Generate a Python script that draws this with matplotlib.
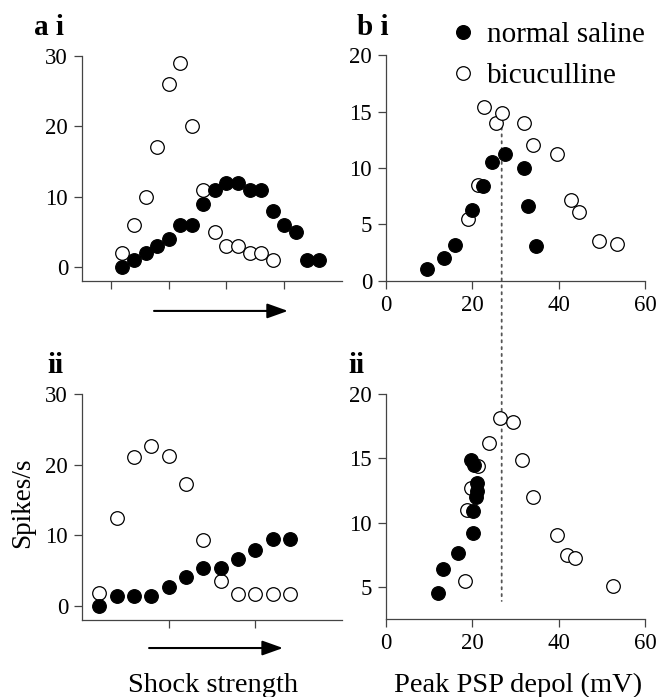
import matplotlib
matplotlib.use("Agg")
import matplotlib.pyplot as plt
from matplotlib.patches import ConnectionPatch
from matplotlib.lines import Line2D

plt.rcParams["font.family"] = ["Liberation Serif", "DejaVu Serif"]

# a i: spikes vs shock strength (stimulus steps)
ai_sal_step = list(range(1, 19))
ai_sal = [0, 1, 2, 3, 4, 6, 6, 9, 11, 12, 12, 11, 11, 8, 6, 5, 1, 1]
ai_bic_step = list(range(1, 15))
ai_bic = [2, 6, 10, 17, 26, 29, 20, 11, 5, 3, 3, 2, 2, 1]

# a ii
aii_step = list(range(1, 13))
aii_sal = [0, 1.4, 1.4, 1.4, 2.7, 4.1, 5.4, 5.4, 6.7, 7.9, 9.5, 9.5]
aii_bic = [1.8, 12.4, 21.1, 22.7, 21.2, 17.2, 9.3, 3.5, 1.75, 1.75, 1.75, 1.75]

# b i: spikes vs peak PSP depolarisation
bi_sal_x = [9.4, 13.4, 16.0, 20.0, 22.4, 24.5, 27.6, 32.0, 33.0, 34.7]
bi_sal_y = [1.1, 2.0, 3.2, 6.3, 8.4, 10.5, 11.2, 10.0, 6.6, 3.1]
bi_bic_x = [18.9, 21.4, 22.8, 25.4, 26.8, 32.0, 34.0, 39.5, 42.9, 44.6, 49.4, 53.4]
bi_bic_y = [5.5, 8.5, 15.4, 14.0, 14.9, 14.0, 12.0, 11.2, 7.2, 6.1, 3.5, 3.3]

# b ii
bii_sal_x = [12.0, 13.3, 16.6, 20.1, 20.1, 20.8, 21.0, 21.0, 20.3, 19.6]
bii_sal_y = [4.6, 6.4, 7.7, 9.2, 10.9, 12.0, 12.5, 13.1, 14.5, 14.9]
bii_bic_x = [18.3, 18.7, 19.8, 21.2, 23.9, 26.4, 29.5, 31.6, 34.0, 39.5, 42.0, 43.8, 52.5]
bii_bic_y = [5.5, 11.0, 12.7, 14.4, 16.2, 18.1, 17.8, 14.9, 12.0, 9.1, 7.5, 7.3, 5.1]

threshold_x = 26.8

W, H = 660, 697
fig = plt.figure(figsize=(W / 100, H / 100), dpi=100)
spine_col = "#444444"
tick_fs = 16.5
label_fs = 20.5


def px_axes(left, right, top, bottom):
    return fig.add_axes([left / W, 1 - bottom / H, (right - left) / W, (bottom - top) / H])


def style(ax, ytop):
    for side in ("top", "right"):
        ax.spines[side].set_visible(False)
    for side in ("left", "bottom"):
        ax.spines[side].set_color(spine_col)
        ax.spines[side].set_linewidth(0.9)
    ax.spines["left"].set_bounds(ax.get_ylim()[0], ytop)
    ax.tick_params(direction="out", length=6, width=0.9, color=spine_col,
                   labelsize=tick_fs, pad=4)
    ax.set_facecolor("none")


def scatter(ax, xs_b, ys_b, xs_s, ys_s):
    ax.plot(xs_b, ys_b, "o", ms=9.8, mfc="white", mec="black", mew=0.9,
            clip_on=False, zorder=3)
    ax.plot(xs_s, ys_s, "o", ms=9.8, mfc="black", mec="black", mew=0.9,
            clip_on=False, zorder=4)


ax_ai = px_axes(82, 342, 56, 281)
scatter(ax_ai, ai_bic_step, ai_bic, ai_sal_step, ai_sal)
ax_ai.set_xlim(-2.5, 20)
ax_ai.set_ylim(-2, 30)
ax_ai.set_xticks([0, 5, 10, 15])
ax_ai.set_xticklabels([])
ax_ai.set_yticks([0, 10, 20, 30])
style(ax_ai, 30)

ax_aii = px_axes(82, 342, 394, 620)
scatter(ax_aii, aii_step, aii_bic, aii_step, aii_sal)
ax_aii.set_xlim(0, 15)
ax_aii.set_ylim(-2, 30)
ax_aii.set_xticks([5, 10])
ax_aii.set_xticklabels([])
ax_aii.set_yticks([0, 10, 20, 30])
style(ax_aii, 30)

ax_bi = px_axes(386, 645, 55, 281)
scatter(ax_bi, bi_bic_x, bi_bic_y, bi_sal_x, bi_sal_y)
ax_bi.set_xlim(0, 60)
ax_bi.set_ylim(0, 20)
ax_bi.set_xticks([0, 20, 40, 60])
ax_bi.set_yticks([0, 5, 10, 15, 20])
style(ax_bi, 20)

ax_bii = px_axes(386, 645, 394, 619)
scatter(ax_bii, bii_bic_x, bii_bic_y, bii_sal_x, bii_sal_y)
ax_bii.set_xlim(0, 60)
ax_bii.set_ylim(2.55, 20)
ax_bii.set_xticks([0, 20, 40, 60])
ax_bii.set_yticks([5, 10, 15, 20])
style(ax_bii, 20)

# dotted threshold line running through both b panels
con = ConnectionPatch(xyA=(threshold_x, 14.8), coordsA=ax_bi.transData,
                      xyB=(threshold_x, 3.95), coordsB=ax_bii.transData,
                      color="#555555", lw=1.3, linestyle=(0, (1.2, 2.6)))
con.set_zorder(-1)
fig.add_artist(con)

# shock strength arrows
for ax, x0, x1, y in ((ax_ai, 0.277, 0.792, -0.133), (ax_aii, 0.258, 0.773, -0.124)):
    ax.annotate("", xy=(x1, y), xytext=(x0, y), xycoords="axes fraction",
                arrowprops=dict(arrowstyle="-|>,head_length=0.7,head_width=0.25",
                                color="black", lw=1.5, mutation_scale=18,
                                shrinkA=0, shrinkB=0))

# legend
handles = [Line2D([], [], ls="", marker="o", ms=9.8, mfc="black", mec="black"),
           Line2D([], [], ls="", marker="o", ms=9.8, mfc="white", mec="black", mew=0.9)]
fig.legend(handles, ["normal saline", "bicuculline"], loc="upper left",
           bbox_to_anchor=(448 / W, 1 - 22 / H), frameon=False, fontsize=21,
           handlelength=1.0, handletextpad=0.35, labelspacing=0.5,
           borderpad=0, borderaxespad=0)

# panel labels and axis labels
for x, y, s in ((34, 35, "a i"), (357, 35, "b i"), (47, 373, "ii"), (348, 373, "ii")):
    fig.text(x / W, 1 - y / H, s, fontsize=21, fontweight="bold", ha="left",
             va="baseline")

fig.text(23 / W, 1 - 503 / H, "Spikes/s", fontsize=19.5, rotation=90,
         ha="center", va="center")
fig.text(213 / W, 1 - 673 / H, "Shock strength", fontsize=label_fs,
         ha="center", va="top")
fig.text(518 / W, 1 - 673 / H, "Peak PSP depol (mV)", fontsize=label_fs,
         ha="center", va="top")

fig.savefig("out.png", dpi=100)
